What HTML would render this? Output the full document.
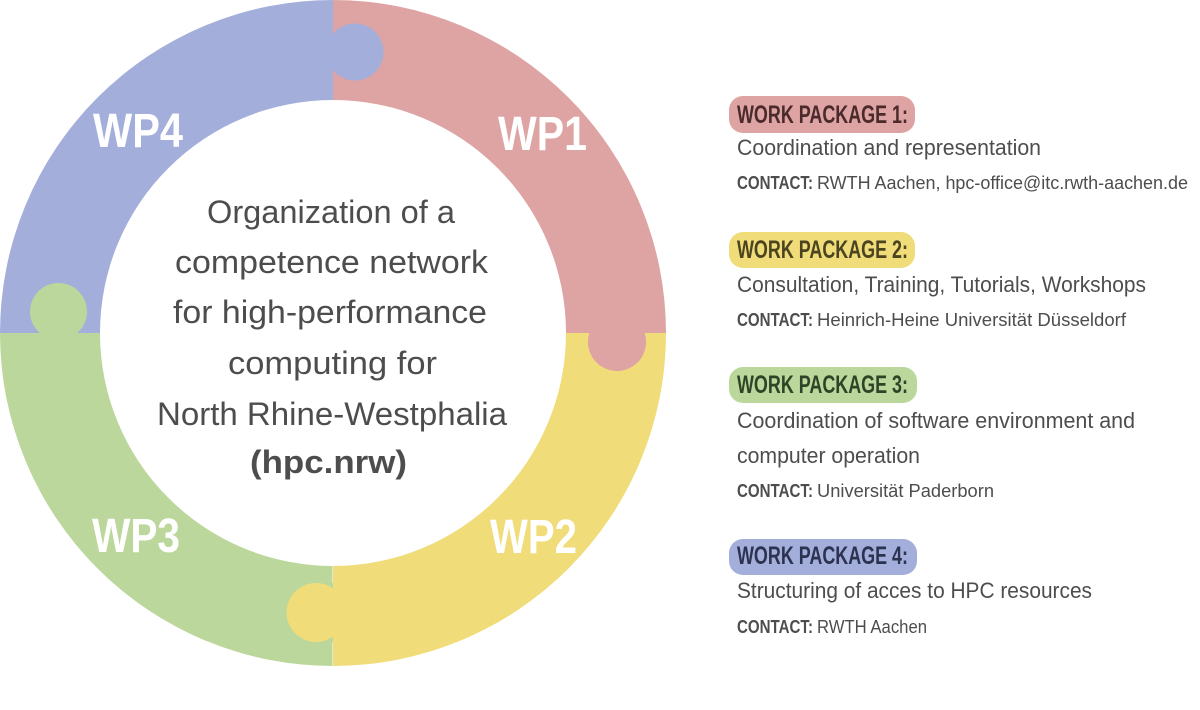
<!DOCTYPE html>
<html>
<head>
<meta charset="utf-8">
<style>
  html, body { margin: 0; padding: 0; background: #ffffff; }
  body { width: 1200px; height: 710px; overflow: hidden; }
  svg { display: block; }
  .c { font-family: "Liberation Sans Narrow", "Liberation Sans", sans-serif; fill: #4d4d4d; }
  .wp { font-family: "Liberation Sans Narrow", "Liberation Sans", sans-serif; font-weight: bold; fill: #ffffff; font-size: 48px; }
  .h { font-family: "Liberation Sans Narrow", "Liberation Sans", sans-serif; font-weight: bold; font-size: 25px; }
  .d { font-family: "Liberation Sans Narrow", "Liberation Sans", sans-serif; font-size: 22px; fill: #4d4d4d; }
  .k { font-family: "Liberation Sans Narrow", "Liberation Sans", sans-serif; font-size: 18px; fill: #4d4d4d; }
  .kb { font-weight: bold; }
</style>
</head>
<body>
<svg width="1200" height="710" viewBox="0 0 1200 710" xmlns="http://www.w3.org/2000/svg">
  <!-- Ring quadrants -->
  <path d="M 0 333 A 333 333 0 0 1 333 0 L 333 100 A 233 233 0 0 0 100 333 Z" fill="#a3aedb"/>
  <path d="M 333 0 A 333 333 0 0 1 666 333 L 566 333 A 233 233 0 0 0 333 100 Z" fill="#dea3a3"/>
  <path d="M 666 333 A 333 333 0 0 1 333 666 L 333 566 A 233 233 0 0 0 566 333 Z" fill="#f0dc79"/>
  <path d="M 333 666 A 333 333 0 0 1 0 333 L 100 333 A 233 233 0 0 0 333 566 Z" fill="#bbd79b"/>

  <!-- Puzzle knobs -->
  <circle cx="355" cy="52" r="28.5" fill="#a3aedb"/>
  <circle cx="617" cy="342" r="29" fill="#dea3a3"/>
  <circle cx="316" cy="612.5" r="29.5" fill="#f0dc79"/>
  <circle cx="58.5" cy="311.5" r="28.5" fill="#bbd79b"/>
  <line x1="332.5" y1="566" x2="332.5" y2="583" stroke="#ffffff" stroke-opacity="0.5" stroke-width="1"/>
  <line x1="332.5" y1="642" x2="332.5" y2="666" stroke="#ffffff" stroke-opacity="0.5" stroke-width="1"/>

  <!-- Ring labels -->
  <text class="wp" x="93" y="147" textLength="90" lengthAdjust="spacingAndGlyphs">WP4</text>
  <text class="wp" x="498" y="150" textLength="89" lengthAdjust="spacingAndGlyphs">WP1</text>
  <text class="wp" x="92" y="552" textLength="88" lengthAdjust="spacingAndGlyphs">WP3</text>
  <text class="wp" x="490" y="553" textLength="87" lengthAdjust="spacingAndGlyphs">WP2</text>

  <!-- Center text -->
  <text class="c" font-size="32" x="207" y="223" textLength="248" lengthAdjust="spacingAndGlyphs">Organization of a</text>
  <text class="c" font-size="32" x="175" y="273" textLength="313" lengthAdjust="spacingAndGlyphs">competence network</text>
  <text class="c" font-size="32" x="173" y="323" textLength="314" lengthAdjust="spacingAndGlyphs">for high-performance</text>
  <text class="c" font-size="32" x="228" y="374" textLength="209" lengthAdjust="spacingAndGlyphs">computing for</text>
  <text class="c" font-size="32" x="157" y="425" textLength="350" lengthAdjust="spacingAndGlyphs">North Rhine-Westphalia</text>
  <text class="c" font-size="32" font-weight="bold" x="250" y="473" textLength="157" lengthAdjust="spacingAndGlyphs">(hpc.nrw)</text>

  <!-- Work package 1 -->
  <rect x="729" y="96" width="186" height="37" rx="14" ry="14" fill="#dea3a3"/>
  <text class="h" fill="#4a2a2a" x="737" y="123" textLength="171" lengthAdjust="spacingAndGlyphs">WORK PACKAGE 1:</text>
  <text class="d" x="737" y="155" textLength="304" lengthAdjust="spacingAndGlyphs">Coordination and representation</text>
  <text class="k kb" x="737" y="189" textLength="76" lengthAdjust="spacingAndGlyphs">CONTACT:</text>
  <text class="k" x="817" y="189" textLength="371" lengthAdjust="spacingAndGlyphs">RWTH Aachen, hpc-office@itc.rwth-aachen.de</text>

  <!-- Work package 2 -->
  <rect x="729" y="232" width="186" height="36" rx="14" ry="14" fill="#f0dc79"/>
  <text class="h" fill="#4a4420" x="737" y="258" textLength="171" lengthAdjust="spacingAndGlyphs">WORK PACKAGE 2:</text>
  <text class="d" x="737" y="292" textLength="409" lengthAdjust="spacingAndGlyphs">Consultation, Training, Tutorials, Workshops</text>
  <text class="k kb" x="737" y="326" textLength="76" lengthAdjust="spacingAndGlyphs">CONTACT:</text>
  <text class="k" x="817" y="326" textLength="309" lengthAdjust="spacingAndGlyphs">Heinrich-Heine Universität Düsseldorf</text>

  <!-- Work package 3 -->
  <rect x="729" y="367" width="188" height="36" rx="14" ry="14" fill="#bbd79b"/>
  <text class="h" fill="#2f4427" x="737" y="393" textLength="171" lengthAdjust="spacingAndGlyphs">WORK PACKAGE 3:</text>
  <text class="d" x="737" y="428" textLength="398" lengthAdjust="spacingAndGlyphs">Coordination of software environment and</text>
  <text class="d" x="737" y="463" textLength="183" lengthAdjust="spacingAndGlyphs">computer operation</text>
  <text class="k kb" x="737" y="497" textLength="76" lengthAdjust="spacingAndGlyphs">CONTACT:</text>
  <text class="k" x="817" y="497" textLength="177" lengthAdjust="spacingAndGlyphs">Universität Paderborn</text>

  <!-- Work package 4 -->
  <rect x="729" y="539" width="188" height="36" rx="14" ry="14" fill="#a3aedb"/>
  <text class="h" fill="#2c3350" x="737" y="564" textLength="171" lengthAdjust="spacingAndGlyphs">WORK PACKAGE 4:</text>
  <text class="d" x="737" y="598" textLength="355" lengthAdjust="spacingAndGlyphs">Structuring of acces to HPC resources</text>
  <text class="k kb" x="737" y="633" textLength="76" lengthAdjust="spacingAndGlyphs">CONTACT:</text>
  <text class="k" x="817" y="633" textLength="110" lengthAdjust="spacingAndGlyphs">RWTH Aachen</text>
</svg>
</body>
</html>
